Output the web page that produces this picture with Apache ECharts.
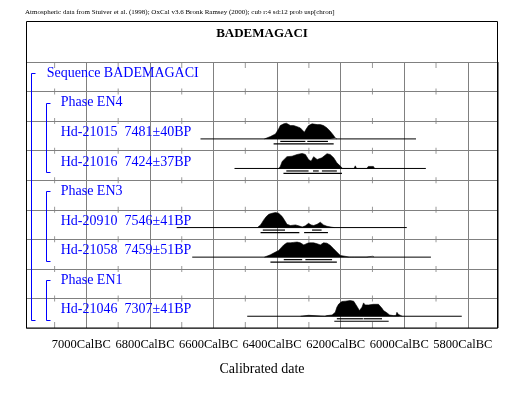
<!DOCTYPE html>
<html><head><meta charset="utf-8">
<script src="https://cdn.jsdelivr.net/npm/echarts@6/dist/echarts.min.js"></script>
<style>html,body{margin:0;padding:0;background:#fff}#c{width:529px;height:395px}</style>
</head><body><div id="c"></div>
<script>
// ---- text ----
const chartTitle = 'BADEMAGACI';
const headerNote = 'Atmospheric data from Stuiver et al. (1998); OxCal v3.6 Bronk Ramsey (2000); cub r:4 sd:12 prob usp[chron]';
const axisTitle = 'Calibrated date';
const rowLabels = ['Sequence BADEMAGACI','Phase EN4','Hd-21015  7481\u00b140BP','Hd-21016  7424\u00b137BP',
  'Phase EN3','Hd-20910  7546\u00b141BP','Hd-21058  7459\u00b151BP','Phase EN1','Hd-21046  7307\u00b141BP'];
const rowIndent = [0,1,1,1,1,1,1,1,1];
// groups: [level, firstRow, lastRow]
const groups = [[0,0,8],[1,1,3],[1,4,6],[1,7,8]];

// ---- axis (cal BC) ----
const axisFrom = 7190, axisTo = 5705;
const majorTicks = [7000,6800,6600,6400,6200,6000,5800];
const minorTicks = [7100,6900,6700,6500,6300,6100,5900];

// ---- samples: [date calBC, relative probability] ----
const prob_21015 = [[6440,0],[6434,0.06],[6421,0.15],[6405,0.32],[6395,0.64],[6390,0.85],[6379,0.96],[6371,1.0],
  [6358,0.85],[6348,0.85],[6337,0.78],[6327,0.70],[6314,0.43],[6308,0.64],[6301,0.85],[6290,0.96],[6274,0.91],
  [6264,0.91],[6254,0.85],[6243,0.70],[6233,0.49],[6222,0.21],[6217,0.06],[6212,0]];
const span_21015 = [6641,5963];
const r68_21015 = [[6390,6311],[6305,6240]];
const r95_21015 = [[6411,6222]];

const prob_21016 = [[6395,0],[6390,0.13],[6384,0.45],[6379,0.57],[6369,0.75],[6353,0.78],[6337,0.89],[6321,0.96],
  [6311,0.89],[6301,0.57],[6293,0.46],[6285,0.75],[6280,0.78],[6274,0.57],[6268,0.46],[6259,0.68],[6243,0.94],
  [6233,0.89],[6222,0.68],[6212,0.36],[6201,0.15],[6194,0],[6172,0],[6169,0.06],[6165,0],[6158,0],[6154,0.17],
  [6150,0],[6118,0],[6113,0.13],[6097,0.13],[6093,0]];
const span_21016 = [6534,5932];
const r68_21016 = [[6371,6301],[6287,6269],[6259,6212]];
const r95_21016 = [[6380,6196]];

const prob_20910 = [[6462,0],[6458,0.06],[6452,0.17],[6442,0.49],[6434,0.70],[6426,0.85],[6416,0.91],[6405,0.96],
  [6395,0.91],[6384,0.70],[6374,0.38],[6369,0.21],[6358,0.13],[6342,0.17],[6332,0.11],[6321,0.04],[6311,0.11],
  [6301,0.27],[6293,0.17],[6285,0.13],[6274,0.21],[6264,0.34],[6254,0.17],[6243,0.08],[6227,0.02],[6220,0]];
const span_20910 = [6716,5992];
const r68_20910 = [[6445,6375],[6290,6260]];
const r95_20910 = [[6452,6330],[6315,6240]];

const prob_21058 = [[6440,0],[6434,0.06],[6421,0.15],[6405,0.32],[6395,0.43],[6390,0.53],[6379,0.78],[6369,0.91],
  [6358,0.91],[6348,0.94],[6337,0.96],[6327,0.91],[6316,0.78],[6311,0.85],[6301,0.91],[6285,0.91],[6274,0.85],
  [6264,0.78],[6254,0.91],[6243,0.89],[6233,0.75],[6222,0.53],[6212,0.32],[6201,0.11],[6196,0],[6172,0],
  [6169,0.04],[6165,0],[6156,0],[6154,0.03],[6151,0],[6120,0],[6117,0.06],[6098,0.06],[6095,0]];
const span_21058 = [6667,5916];
const r68_21058 = [[6379,6321],[6311,6227]];
const r95_21058 = [[6421,6212]];

const prob_21046 = [[6326,0],[6323,0.06],[6301,0.06],[6298,0],[6250,0],[6243,0.04],[6227,0.08],[6217,0.25],
  [6212,0.57],[6206,0.78],[6196,0.94],[6185,0.96],[6170,1.0],[6159,0.96],[6154,0.85],[6147,0.57],[6141,0.36],
  [6133,0.57],[6128,0.85],[6123,0.72],[6112,0.72],[6097,0.76],[6081,0.76],[6076,0.68],[6070,0.51],[6065,0.36],
  [6054,0.21],[6046,0.08],[6034,0.04],[6026,0.04],[6023,0.25],[6018,0.11],[6010,0.04],[6006,0]];
const span_21046 = [6494,5819];
const r68_21046 = [[6212,6130],[6128,6070]];
const r95_21046 = [[6220,6049]];

const samples = [
  {row:2, prob:prob_21015, span:span_21015, r68:r68_21015, r95:r95_21015},
  {row:3, prob:prob_21016, span:span_21016, r68:r68_21016, r95:r95_21016},
  {row:5, prob:prob_20910, span:span_20910, r68:r68_20910, r95:r95_20910},
  {row:6, prob:prob_21058, span:span_21058, r68:r68_21058, r95:r95_21058},
  {row:8, prob:prob_21046, span:span_21046, r68:r68_21046, r95:r95_21046}
];

// ---- layout / style ----
const NROWS = rowLabels.length;
const ROW_PX = 266 / NROWS;
const BASE_OFF = 17.8 / ROW_PX;
const PEAK = 15.7 / ROW_PX;
const BLUE = '#0000ff', GRAY = '#808080';
const SERIF = '"Liberation Serif","Times New Roman",serif';

const chart = echarts.init(document.getElementById('c'), null, {renderer:'canvas'});
const series = [];

// minor tick marks on every row line
const tickData = [];
for (let k = 0; k <= NROWS; k++) minorTicks.forEach(d => tickData.push({value:[-d, k], symbolOffset:[0, k===0 ? -3 : (k===NROWS ? 3 : 0)]}));
series.push({type:'scatter', data:tickData, symbol:'rect', symbolSize:[1,6], itemStyle:{color:GRAY}, silent:true, z:1});

samples.forEach(s => {
  const base = NROWS - s.row - BASE_OFF;
  series.push({type:'line', data:[[-s.span[0], base],[-s.span[1], base]], symbol:'none', silent:true,
    lineStyle:{width:1, color:'#000'}, z:3});
  series.push({type:'line', data:s.prob.map(([d,p]) => [-d, base + p*PEAK]), symbol:'none', silent:true,
    lineStyle:{width:0.6, color:'#000'}, areaStyle:{color:'#000', opacity:1, origin:base}, z:4});
});

// range bars
const rangeData = [];
samples.forEach(s => {
  s.r68.forEach(r => rangeData.push([-r[0], -r[1], NROWS - s.row - BASE_OFF, 0]));
  s.r95.forEach(r => rangeData.push([-r[0], -r[1], NROWS - s.row - BASE_OFF, 1]));
});
series.push({type:'custom', data:rangeData, silent:true, z:5, encode:{x:[0,1], y:2},
  renderItem:(params, api) => {
    const a = api.coord([api.value(0), api.value(2)]);
    const b = api.coord([api.value(1), api.value(2)]);
    const off = api.value(3) === 0 ? 2.5 : 5;
    return {type:'line', shape:{x1:a[0], y1:a[1]+off, x2:b[0], y2:b[1]+off}, style:{stroke:'#000', lineWidth:1.2}};
  }});

// row labels
series.push({type:'custom', data:rowLabels.map((t,i) => [-axisFrom, i]), silent:true, z:6, encode:{x:0, y:1},
  renderItem:(params, api) => {
    const i = api.value(1);
    const p = api.coord([-axisFrom, NROWS - i]);
    return {type:'text', x:p[0] + (rowIndent[i] ? 34.7 : 20.7), y:p[1] + 11.2,
      style:{text:rowLabels[i], fill:BLUE, font:'14px ' + SERIF, verticalAlign:'middle', align:'left'}};
  }});

// group brackets
series.push({type:'custom', data:groups.map(g => [-axisFrom, g[1], g[2], g[0]]), silent:true, z:6, encode:{x:0, y:1},
  renderItem:(params, api) => {
    const lvl = api.value(3);
    const top = api.coord([-axisFrom, NROWS - api.value(1)]);
    const bot = api.coord([-axisFrom, NROWS - api.value(2) - 1]);
    const x = Math.round(top[0] + (lvl ? 20 : 5)) + 0.5;
    const y1 = Math.round(top[1] + 11) + 0.5, y2 = Math.round(bot[1] - 8.3) + 0.5;
    return {type:'polyline', shape:{points:[[x+4,y1],[x,y1],[x,y2],[x+4,y2]]}, style:{stroke:BLUE, lineWidth:1, fill:null}};
  }});

chart.setOption({
  animation:false,
  backgroundColor:'#fff',
  grid:{left:26, right:31, top:62, bottom:67, show:false},
  xAxis:{type:'value', min:-axisFrom, max:-axisTo, minInterval:200, maxInterval:200, splitNumber:7,
    axisLine:{show:false}, axisTick:{show:false},
    splitLine:{show:true, lineStyle:{color:GRAY, width:1}},
    axisLabel:{formatter:v => (majorTicks.indexOf(-v) >= 0 ? (-v) + 'CalBC' : ''), showMinLabel:false, showMaxLabel:false,
      fontFamily:SERIF, fontSize:12.5, color:'#000', margin:10, padding:[0,10,0,0]},
    name:axisTitle, nameLocation:'middle', nameGap:34, nameTextStyle:{fontFamily:SERIF, fontSize:14, color:'#000'}},
  yAxis:{type:'value', min:0, max:NROWS, interval:1, axisLine:{show:false}, axisTick:{show:false}, axisLabel:{show:false},
    splitLine:{show:true, lineStyle:{color:GRAY, width:1}}},
  graphic:[
    {type:'rect', z:100, silent:true, shape:{x:26.5, y:21.5, width:471, height:306.5}, style:{stroke:'#000', lineWidth:1, fill:null}},
    {type:'text', z:100, silent:true, x:262, y:34, style:{text:chartTitle, font:'bold 13px ' + SERIF, fill:'#000', align:'center', verticalAlign:'middle'}},
    {type:'text', z:100, silent:true, x:25, y:12, style:{text:headerNote, font:'7px ' + SERIF, fill:'#000', align:'left', verticalAlign:'middle'}}
  ],
  series:series
});
</script></body></html>
